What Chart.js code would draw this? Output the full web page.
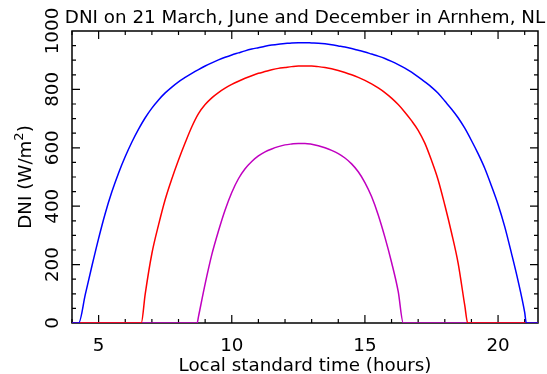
<!DOCTYPE html>
<html>
<head>
<meta charset="utf-8">
<script src="https://cdn.jsdelivr.net/npm/chart.js@4/dist/chart.umd.min.js"></script>
<style>
  html, body { margin: 0; padding: 0; background: #fff; }
</style>
</head>
<body>
<canvas id="graficoDNI" width="547" height="374"></canvas>
<script>
// DNI curves (W/m2)
const tituloGrafico = 'DNI on 21 March, June and December in Arnhem, NL';
const tituloX = 'Local standard time (hours)';

const marchHours = [4, 6.6, 6.75, 7, 7.25, 7.5, 7.75, 8, 8.25, 8.5, 8.75, 9, 9.25, 9.5, 9.75, 10, 10.25, 10.5, 10.75,
  11, 11.25, 11.5, 11.75, 12, 12.25, 12.5, 12.75, 13, 13.25, 13.5, 13.75, 14, 14.25, 14.5, 14.75, 15, 15.25, 15.5, 15.75,
  16, 16.25, 16.5, 16.75, 17, 17.25, 17.5, 17.75, 18, 18.25, 18.5, 18.75, 18.86, 21.5];
const marchDNI = [0, 0, 100, 238, 336, 423, 494, 558, 617, 672, 717, 748, 771, 789, 804, 817, 828, 838, 847,
  855, 861, 867, 872, 875, 878, 880, 880, 880, 878, 875, 871, 865, 858, 850, 841, 831, 819, 805, 789,
  770, 748, 722, 693, 660, 616, 557, 490, 404, 310, 205, 60, 0, 0];

const juneHours = [4, 4.25, 4.5, 4.75, 5, 5.25, 5.5, 5.75, 6, 6.25, 6.5, 6.75, 7, 7.25, 7.5, 7.75, 8, 8.25, 8.5, 8.75,
  9, 9.25, 9.5, 9.75, 10, 10.25, 10.5, 10.75, 11, 11.25, 11.5, 11.75, 12, 12.25, 12.5, 12.75, 13, 13.25, 13.5, 13.75,
  14, 14.25, 14.5, 14.75, 15, 15.25, 15.5, 15.75, 16, 16.25, 16.5, 16.75, 17, 17.25, 17.5, 17.75, 18, 18.25, 18.5, 18.75,
  19, 19.25, 19.5, 19.75, 20, 20.25, 20.5, 20.75, 21, 21.06, 21.5];
const juneDNI = [0, 0, 98, 196, 290, 376, 450, 514, 570, 620, 664, 703, 736, 764, 788, 808, 826, 841, 855, 868,
  880, 891, 901, 910, 918, 925, 932, 938, 943, 948, 952, 955, 957, 959, 960, 960, 959, 958, 956, 953,
  949, 945, 940, 934, 928, 921, 914, 906, 896, 885, 873, 859, 843, 826, 808, 787, 760, 733, 703, 667,
  625, 580, 530, 470, 406, 330, 240, 145, 36, 0, 0];

const decemberHours = [4, 8.7, 8.75, 9, 9.25, 9.5, 9.75, 10, 10.25, 10.5, 10.75, 11, 11.25, 11.5, 11.75, 12, 12.25,
  12.5, 12.75, 13, 13.25, 13.5, 13.75, 14, 14.25, 14.5, 14.75, 15, 15.25, 15.5, 15.75, 16, 16.25, 16.44, 21.5];
const decemberDNI = [0, 0, 22, 134, 234, 315, 387, 447, 494, 528, 553, 572, 586, 596, 604, 610, 613,
  615, 615, 612, 607, 600, 591, 580, 565, 545, 518, 481, 433, 370, 294, 208, 108, 0, 0];

// axes
const xMin = 4, xMax = 21.5, xMinorStep = 1;
const yMin = 0, yMax = 1000, yMinorStep = 50;
const xTickLabels = [5, 10, 15, 20];
const yTickLabels = [0, 200, 400, 600, 800, 1000];

const fonte = '18.3px "DejaVu Sans"';
const fonteSup = '13px "DejaVu Sans"';

function pontos(horas, valores) {
  return horas.map((h, i) => ({ x: h, y: valores[i] }));
}

// border, inward ticks and texts drawn in the gnuplot way
const moldura = {
  id: 'moldura',
  beforeDatasetsDraw(chart) {
    const { ctx, chartArea: a, scales: { x, y } } = chart;
    ctx.save();
    ctx.strokeStyle = '#000';
    ctx.lineWidth = 1.5;
    ctx.strokeRect(a.left, a.top, a.right - a.left, a.bottom - a.top);
    ctx.lineWidth = 1.2;
    ctx.beginPath();
    for (let v = Math.ceil(xMin); v <= xMax; v += xMinorStep) {
      const px = x.getPixelForValue(v);
      const len = xTickLabels.includes(v) ? 8 : 4;
      ctx.moveTo(px, a.bottom); ctx.lineTo(px, a.bottom - len);
      ctx.moveTo(px, a.top); ctx.lineTo(px, a.top + len);
    }
    for (let v = yMin + yMinorStep; v < yMax; v += yMinorStep) {
      const py = y.getPixelForValue(v);
      const len = yTickLabels.includes(v) ? 8 : 4;
      ctx.moveTo(a.left, py); ctx.lineTo(a.left + len, py);
      ctx.moveTo(a.right, py); ctx.lineTo(a.right - len, py);
    }
    ctx.stroke();
    ctx.restore();
  },
  afterDraw(chart) {
    const { ctx, chartArea: a, scales: { x, y } } = chart;
    const meio = (a.left + a.right) / 2;
    ctx.save();
    ctx.fillStyle = '#000';
    ctx.font = fonte;
    ctx.textBaseline = 'alphabetic';
    ctx.textAlign = 'center';

    // title and x axis
    ctx.fillText(tituloGrafico, meio, 23);
    xTickLabels.forEach(v => ctx.fillText(String(v), x.getPixelForValue(v), 351));
    ctx.fillText(tituloX, meio, 371);

    // y tick labels, rotated
    yTickLabels.forEach(v => {
      ctx.save();
      ctx.translate(58, y.getPixelForValue(v));
      ctx.rotate(-Math.PI / 2);
      ctx.fillText(String(v), 0, 0);
      ctx.restore();
    });

    // y title with superscript
    const parte1 = 'DNI (W/m', sup = '2', parte2 = ')';
    const w1 = ctx.measureText(parte1).width;
    const w3 = ctx.measureText(parte2).width;
    ctx.font = fonteSup;
    const w2 = ctx.measureText(sup).width;
    const total = w1 + w2 + w3;
    ctx.translate(31, (a.top + a.bottom) / 2);
    ctx.rotate(-Math.PI / 2);
    ctx.textAlign = 'left';
    let pos = -total / 2;
    ctx.font = fonte;
    ctx.fillText(parte1, pos, 0);
    pos += w1;
    ctx.font = fonteSup;
    ctx.fillText(sup, pos, -8);
    pos += w2;
    ctx.font = fonte;
    ctx.fillText(parte2, pos, 0);
    ctx.restore();
  }
};

const ctx = document.getElementById('graficoDNI').getContext('2d');
new Chart(ctx, {
  type: 'line',
  data: {
    datasets: [
      { label: 'June', data: pontos(juneHours, juneDNI), borderColor: '#0000ff' },
      { label: 'March', data: pontos(marchHours, marchDNI), borderColor: '#ff0000' },
      { label: 'December', data: pontos(decemberHours, decemberDNI), borderColor: '#c000c0' }
    ]
  },
  options: {
    responsive: false,
    animation: false,
    layout: { padding: { left: 72, right: 9, top: 31, bottom: 51 } },
    elements: {
      line: { borderWidth: 1.5, cubicInterpolationMode: 'monotone', fill: false },
      point: { radius: 0 }
    },
    plugins: {
      legend: { display: false },
      tooltip: { enabled: false }
    },
    scales: {
      x: { type: 'linear', min: xMin, max: xMax, display: false },
      y: { type: 'linear', min: yMin, max: yMax, display: false }
    }
  },
  plugins: [moldura]
});
</script>
</body>
</html>
